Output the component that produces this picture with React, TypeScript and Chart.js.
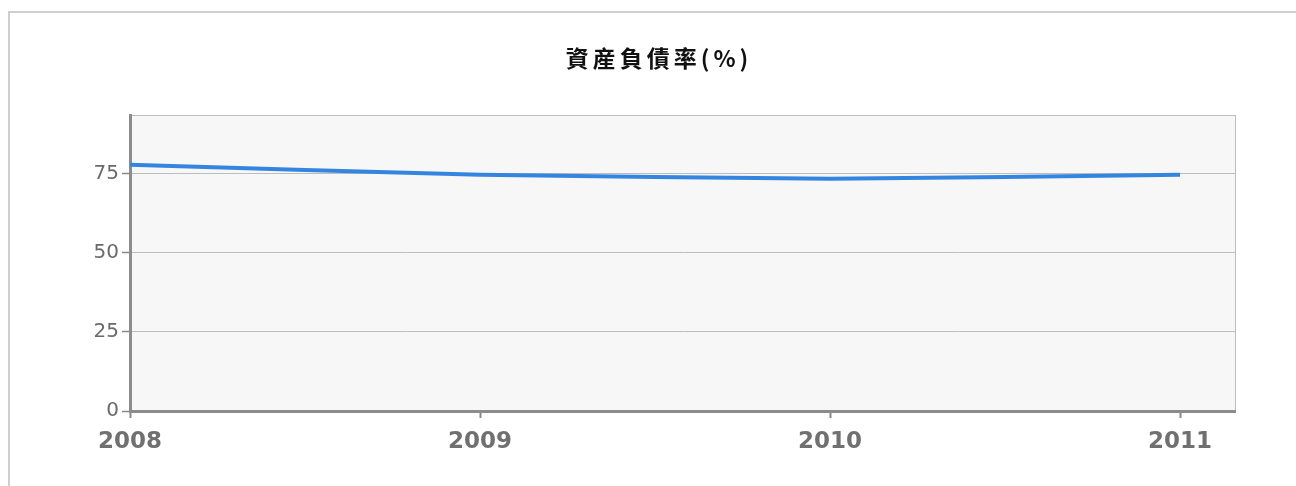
import React, { useEffect, useRef } from "react";
import { Chart, registerables } from "chart.js";

Chart.register(...registerables);

const TITLE = "資産負債率(%)";
const YEARS = [2008, 2009, 2010, 2011];
const RATIO = [77.8, 74.6, 73.4, 74.6];
const Y_TICKS = [0, 25, 50, 75];

const frame = {
  id: "frame",
  beforeDraw(chart: any) {
    const { ctx, chartArea: a } = chart;
    ctx.save();
    ctx.strokeStyle = "#cfcfcf";
    ctx.lineWidth = 2;
    ctx.strokeRect(9, 12, 1400, 600);
    ctx.fillStyle = "#f7f7f7";
    ctx.fillRect(a.left, a.top, a.right - a.left, a.bottom - a.top);
    ctx.strokeStyle = "#bdbdbd";
    ctx.lineWidth = 1;
    ctx.strokeRect(a.left + 0.5, a.top + 0.5, a.right - a.left, a.bottom - a.top);
    ctx.fillStyle = "#111";
    ctx.font = "bold 23px 'Noto Sans CJK TC', serif";
    try {
      ctx.letterSpacing = "4px";
    } catch (e) {}
    ctx.textAlign = "center";
    ctx.textBaseline = "middle";
    ctx.fillText(TITLE, 659, 58);
    ctx.restore();
  },
};

export default function App() {
  const ref = useRef<HTMLCanvasElement>(null);
  useEffect(() => {
    const chart = new Chart(ref.current!, {
      type: "line",
      data: {
        datasets: [
          {
            data: YEARS.map((x, i) => ({ x, y: RATIO[i] })),
            borderColor: "#3485e0",
            borderWidth: 4,
            pointRadius: 0,
            tension: 0.15,
          },
        ],
      },
      options: {
        animation: false,
        responsive: false,
        events: [],
        layout: { padding: { top: 115, right: 61, left: 0, bottom: 0 } },
        plugins: { legend: { display: false }, tooltip: { enabled: false }, title: { display: false } },
        scales: {
          x: {
            type: "linear",
            min: 2008,
            max: 2011.157,
            afterBuildTicks: (s: any) => {
              s.ticks = YEARS.map((v) => ({ value: v }));
            },
            afterFit: (s: any) => {
              s.height = 75;
            },
            grid: {
              drawOnChartArea: false,
              drawTicks: true,
              tickLength: 7,
              tickColor: "#888",
              tickWidth: 2,
            },
            border: { color: "#8c8c8c", width: 3, dash: [3, 1] },
            ticks: {
              color: "#707070",
              font: { family: "'DejaVu Sans', Arial", size: 23, weight: "bold" },
              padding: 10,
              callback: (v: any) => String(v),
            },
          },
          y: {
            min: 0,
            max: 93.5,
            afterBuildTicks: (s: any) => {
              s.ticks = Y_TICKS.map((v) => ({ value: v }));
            },
            afterFit: (s: any) => {
              s.width = 130;
            },
            grid: {
              color: "#bdbdbd",
              lineWidth: 1,
              tickLength: 8,
              tickColor: "#888",
              tickWidth: 1.5,
            },
            border: { color: "#8c8c8c", width: 3 },
            ticks: {
              color: "#6a6a6a",
              font: { family: "'DejaVu Sans', Arial", size: 20 },
              padding: 3,
            },
          },
        },
      },
      plugins: [frame],
    });
    return () => chart.destroy();
  }, []);
  return (
    <div style={{ position: "fixed", left: 0, top: 0, width: 1296, height: 486, background: "#fff" }}>
      <canvas ref={ref} width={1296} height={486} style={{ display: "block" }} />
    </div>
  );
}
